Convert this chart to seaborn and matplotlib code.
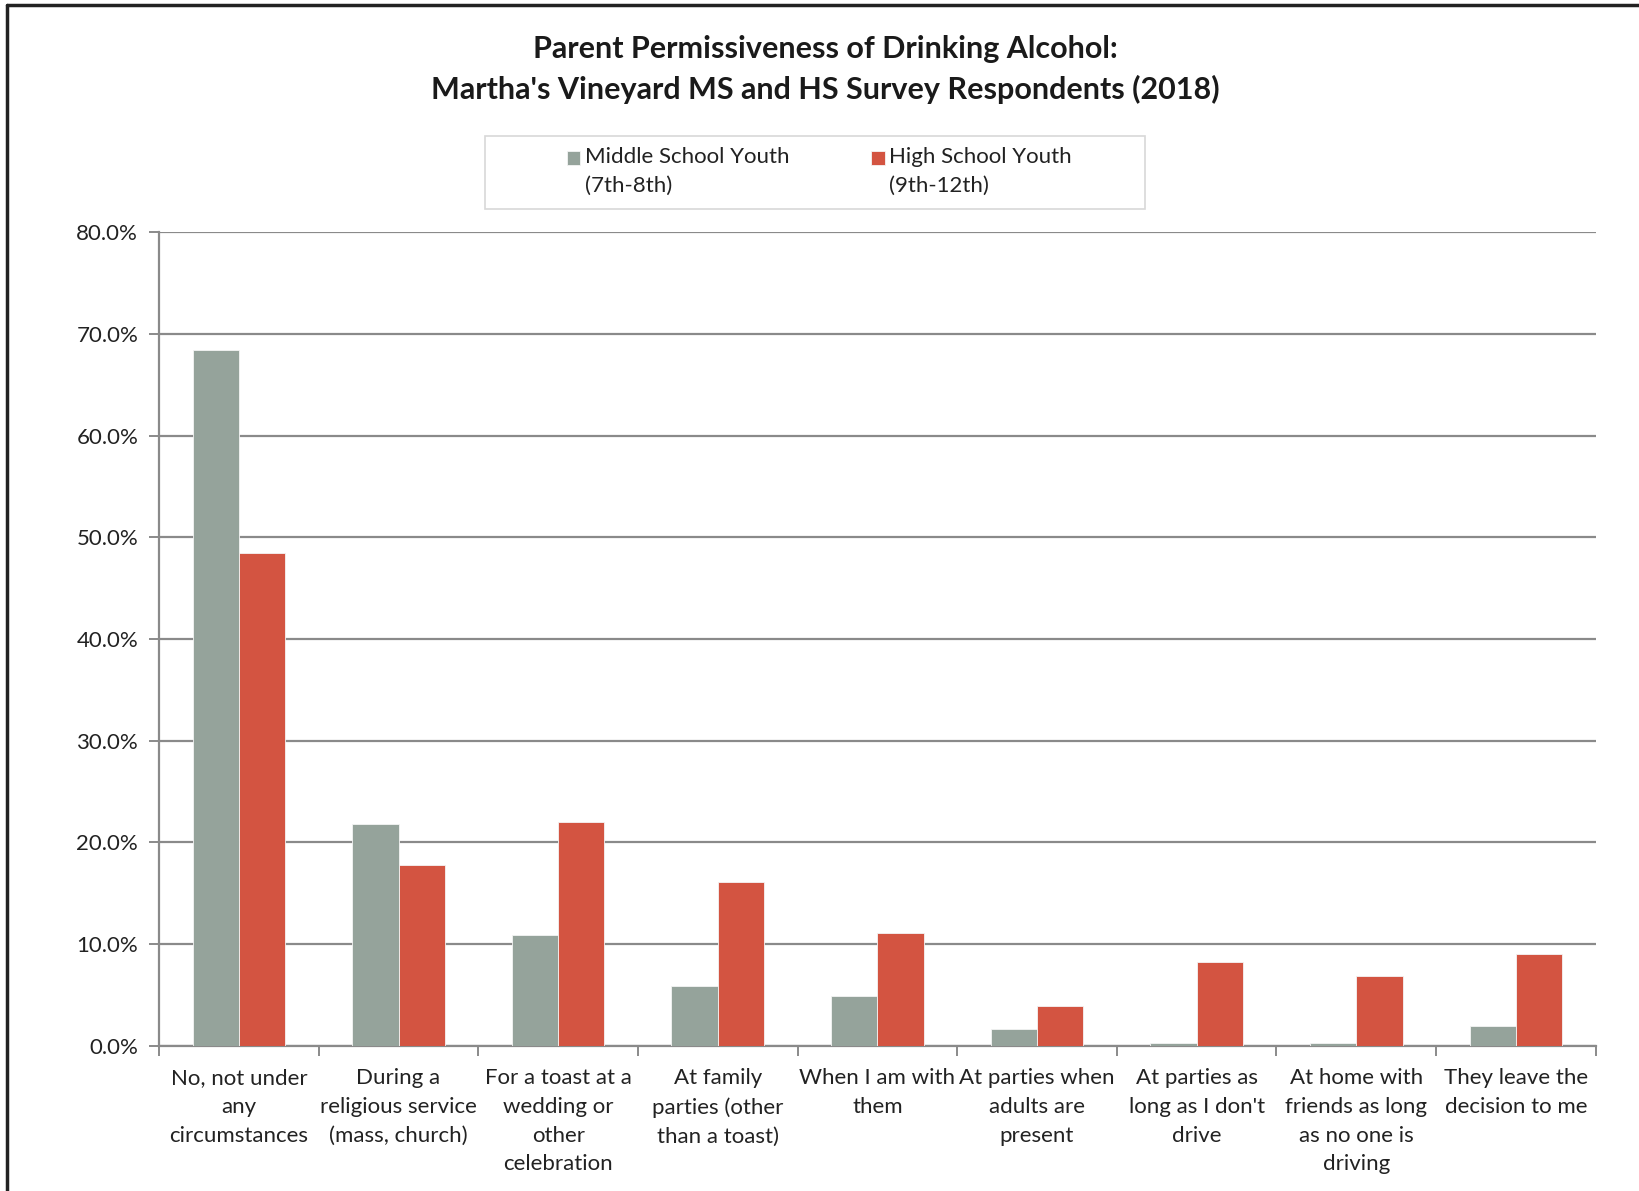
import pandas as pd
import matplotlib
matplotlib.use("Agg")
import matplotlib.pyplot as plt
import seaborn as sns
from matplotlib.ticker import PercentFormatter, FixedLocator
from matplotlib.lines import Line2D
from matplotlib.patches import Rectangle
from matplotlib.legend_handler import HandlerPatch

categories = [
    "No, not under\nany\ncircumstances",
    "During a\nreligious service\n(mass, church)",
    "For a toast at a\nwedding or\nother\ncelebration",
    "At family\nparties (other\nthan a toast)",
    "When I am with\nthem",
    "At parties when\nadults are\npresent",
    "At parties as\nlong as I don't\ndrive",
    "At home with\nfriends as long\nas no one is\ndriving",
    "They leave the\ndecision to me",
]
ms_label = "Middle School Youth\n(7th-8th)"
hs_label = "High School Youth\n(9th-12th)"
ms_values = [68.4, 21.8, 10.9, 5.9, 4.9, 1.6, 0.3, 0.3, 1.9]
hs_values = [48.5, 17.8, 22.0, 16.1, 11.1, 3.9, 8.2, 6.9, 9.0]

df = pd.DataFrame({
    "category": categories * 2,
    "group": [ms_label] * len(categories) + [hs_label] * len(categories),
    "value": ms_values + hs_values,
})

sns.set_style("white")
plt.rcParams['font.family'] = ['Lato', 'DejaVu Sans']

fig = plt.figure(figsize=(16.4, 11.91), dpi=100)
ax = fig.add_axes([0.097, 0.122, 0.876, 0.683])

sns.barplot(data=df, x="category", y="value", hue="group",
            palette=["#95A39B", "#D35441"], saturation=1, width=0.58,
            edgecolor="#f4f4f4", linewidth=0.6, ax=ax, legend=True, zorder=3)

ax.set_ylim(0, 80)
ax.set_xlim(-0.5, len(categories) - 0.5)
ax.yaxis.set_major_locator(FixedLocator(range(0, 81, 10)))
ax.yaxis.set_major_formatter(PercentFormatter(decimals=1))
ax.grid(axis="y", color="#8a8a8a", linewidth=1.6, zorder=0)
ax.set_axisbelow(True)
ax.set_xlabel("")
ax.set_ylabel("")

for side in ["top", "right"]:
    ax.spines[side].set_visible(False)
for side in ["left", "bottom"]:
    ax.spines[side].set_color("#8a8a8a")
    ax.spines[side].set_linewidth(1.6)

ax.tick_params(axis="y", which="major", length=7, width=1.4, color="#8a8a8a",
               labelsize=16, labelcolor="#222222", pad=8, left=True)
ax.tick_params(axis="x", which="major", length=0, labelsize=16,
               labelcolor="#222222", pad=16)
ax.set_xticks([i + 0.5 for i in range(-1, len(categories))], minor=True)
ax.tick_params(axis="x", which="minor", length=7, width=1.4, color="#8a8a8a",
               bottom=True)
for lbl in ax.get_xticklabels():
    lbl.set_linespacing(1.55)


# small square at the top of the (two-line) handle box
def top_square(legend, orig_handle, xdescent, ydescent, width, height, fontsize):
    s = 0.62 * fontsize
    return Rectangle((-xdescent + width - s, height - ydescent - s * 0.75), s, s)


handles, labels = ax.get_legend_handles_labels()
leg = ax.legend(handles, labels, loc="upper center", bbox_to_anchor=(0.459, 1.118),
                ncol=2, frameon=False, fontsize=16, handlelength=0.7, handleheight=2.2,
                handletextpad=0.2, columnspacing=3.6, borderpad=0.5,
                borderaxespad=0,
                handler_map={h: HandlerPatch(patch_func=top_square) for h in handles})
for t in leg.get_texts():
    t.set_color("#222222")
    t.set_linespacing(1.55)

# legend box (wider than the entries, as in the original)
fig.add_artist(Rectangle((0.296, 0.8245), 0.402, 0.0615, transform=fig.transFigure,
                         facecolor="none", edgecolor="#d8d8d8", linewidth=1.2))

fig.text(0.503, 0.959, "Parent Permissiveness of Drinking Alcohol:",
         ha="center", va="center", fontsize=22, fontweight="bold", color="#1a1a1a")
fig.text(0.503, 0.925, "Martha's Vineyard MS and HS Survey Respondents (2018)",
         ha="center", va="center", fontsize=22, fontweight="bold", color="#1a1a1a")

# outer frame
fig.add_artist(Line2D([0.004, 1.0], [0.996, 0.996], color="#222222", linewidth=2.5))
fig.add_artist(Line2D([0.004, 0.004], [0.0, 0.996], color="#222222", linewidth=2.5))

fig.savefig("out.png", dpi=100)
